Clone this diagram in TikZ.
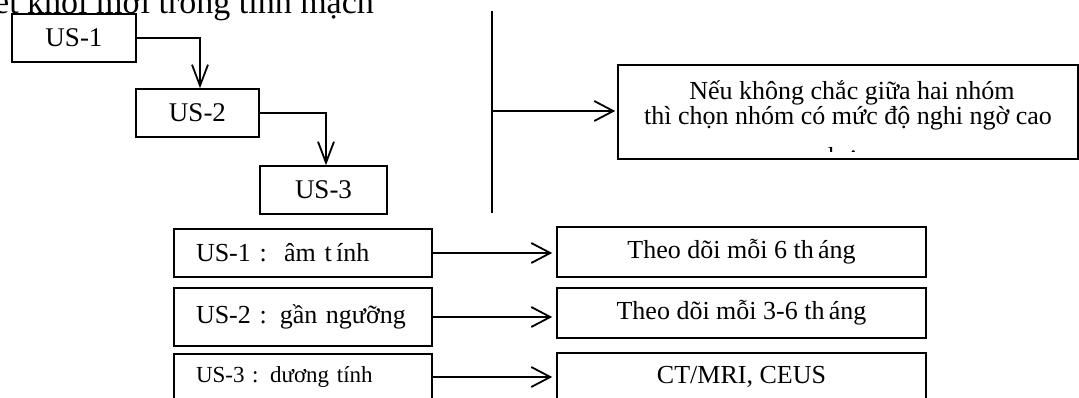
\documentclass[tikz,border=0pt]{standalone}
\usepackage{fontspec}
\setmainfont{Liberation Serif}
\usetikzlibrary{arrows.meta}

\begin{document}
\begin{tikzpicture}[x = 1pt, y = -1pt,
		box/.style = {draw, line width = 1.6pt, inner sep = 0pt},
		lbox/.style = {box, minimum width = 258pt, text width = 214pt, align = left, inner xsep = 22pt},
		rbox/.style = {box, minimum width = 369pt},
		txt/.style = {inner sep = 0pt},
		arr/.style = {line width = 1.8pt, -{Straight Barb[length = 19pt, width = 20pt, line width = 1.8pt]}},
		darr/.style = {line width = 1.8pt, -{Straight Barb[length = 21pt, width = 16pt, line width = 1.8pt]}}
	]
					\def\fsMain{\fontsize{26}{25}\selectfont}
					\def\fsBox{\fontsize{27}{27}\selectfont}
					\def\fsSmall{\fontsize{23}{23}\selectfont}

					\useasboundingbox (0,0) rectangle (1079,398);
					\clip (0,0) rectangle (1079,398);

					% heading, cut at the page edge
					\node [txt, anchor = base west, font = \fontsize{34}{34}\selectfont] (title) at (-6,13.5) {ết khối mới trong tĩnh mạch};

					% staircase of the three US boxes
					\node [box, minimum width = 124pt, minimum height = 48pt, font = \fsBox] (usA) at (74,38) {US-1};
					\node [box, minimum width = 123pt, minimum height = 48pt, font = \fsBox] (usB) at (197.5,113) {US-2};
					\node [box, minimum width = 127pt, minimum height = 48pt, font = \fsBox] (usC) at (323.5,190) {US-3};

					\begin{scope}[darr]
						\draw (usA.east) -| ([xshift = 2.5pt]usB.north);
						\draw (usB.east) -| ([xshift = 2.5pt]usC.north);
					\end{scope}

					% divider and the note
					\coordinate (vTop) at (492,11);
					\coordinate (vBot) at (492,213);
					\coordinate (vMid) at (492,111);
					\draw [line width = 1.6pt] (vTop) -- (vBot);

					\node [box, minimum width = 460pt, minimum height = 94pt] (note) at (848,112) {};
					\draw [arr, shorten > = 2pt] (vMid) -- (vMid -| note.west);

					\node [txt, anchor = base, font = \fsMain] (noteA) at (852,100) {Nếu không chắc giữa hai nhóm};
					\node [txt, anchor = base, font = \fsMain] (noteB) at (848,125) {thì chọn nhóm có mức độ nghi ngờ cao};
					\begin{scope}
						\clip (620,67) rectangle (1076,152);
						\node [txt, anchor = base, font = \fsMain] (noteC) at (848,166) {hơn};
					\end{scope}

					% groups and what to do
					\node [lbox, minimum height = 48pt, font = \fsMain] (grA) at (303,253) {US-1 :\ \ âm t\,ính};
					\node [lbox, minimum height = 58pt, font = \fsMain] (grB) at (303,317) {US-2 : gần ngưỡng};
					\node [lbox, minimum height = 46pt, font = \fsSmall] (grC) at (303,377) {US-3 : dương tính};

					\node [rbox, minimum height = 50pt, font = \fsMain] (doA) at (741.5,252) {Theo dõi mỗi 6 th\,áng};
					\node [rbox, minimum height = 50pt, font = \fsMain] (doB) at (741.5,313) {Theo dõi mỗi 3-6 th\,áng};
					\node [rbox, minimum height = 48pt, font = \fsMain] (doC) at (741.5,377) {CT/MRI, CEUS};

					\begin{scope}[arr, shorten > = 4pt]
						\draw (grA.east) -- (grA.east -| doA.west);
						\draw (grB.east) -- (grB.east -| doB.west);
						\draw (grC.east) -- (grC.east -| doC.west);
					\end{scope}

				\end{tikzpicture}
\end{document}
